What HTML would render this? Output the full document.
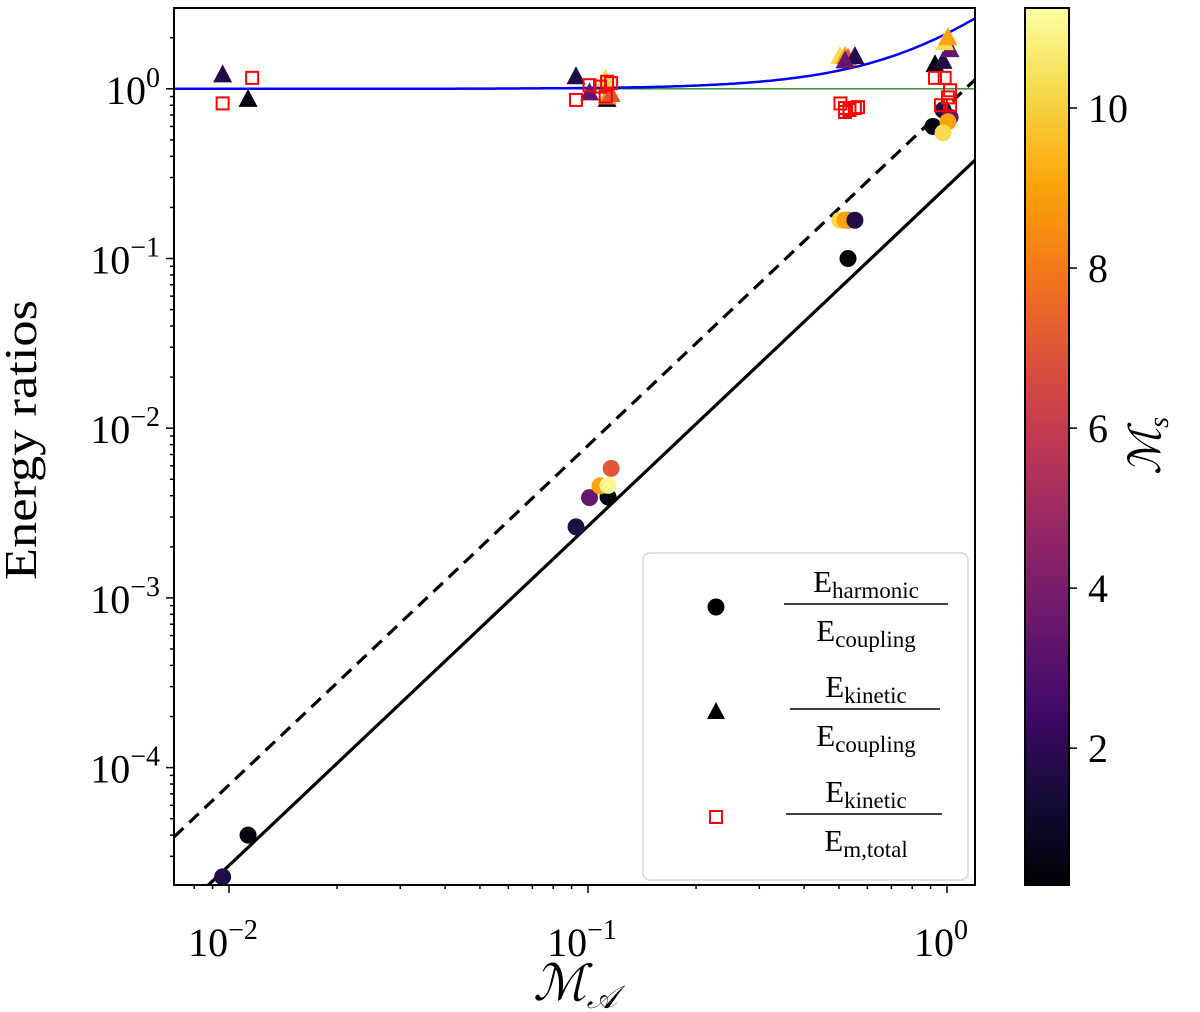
<!DOCTYPE html>
<html><head><meta charset="utf-8"><style>
html,body{margin:0;padding:0;background:#fff}
svg{display:block;font-family:"Liberation Serif","DejaVu Serif",serif}
</style></head><body>
<svg id="chart" width="1200" height="1012" viewBox="0 0 1200 1012" xmlns="http://www.w3.org/2000/svg">
<defs>
<clipPath id="clip"><rect x="174" y="8" width="801" height="877"/></clipPath>
<linearGradient id="cbgrad" x1="0" y1="1" x2="0" y2="0">
<stop offset="0" stop-color="#000004"/><stop offset="0.1" stop-color="#160b39"/><stop offset="0.2" stop-color="#420a68"/><stop offset="0.3" stop-color="#6a176e"/><stop offset="0.4" stop-color="#932667"/><stop offset="0.5" stop-color="#bc3754"/><stop offset="0.6" stop-color="#dd513a"/><stop offset="0.7" stop-color="#f37819"/><stop offset="0.8" stop-color="#fca50a"/><stop offset="0.9" stop-color="#f6d746"/><stop offset="1" stop-color="#fcffa4"/>
</linearGradient>
</defs>
<g id="plot" clip-path="url(#clip)"></g>
<rect x="174" y="8" width="801" height="877" fill="none" stroke="#000" stroke-width="2"/>
<g id="axes"></g>
<text x="36" y="440" font-size="46" text-anchor="middle" textLength="280" lengthAdjust="spacingAndGlyphs" transform="rotate(-90 36 440)">Energy ratios</text>
<text x="575" y="1000" font-size="50" font-style="italic" text-anchor="middle">ℳ<tspan font-size="32" dy="8">𝒜</tspan></text>
<g>
<rect x="643" y="553" width="325" height="327" rx="7" fill="#fff" fill-opacity="0.85" stroke="#d6d6d6" stroke-width="1.5"/>
<circle cx="716" cy="607" r="8.5" fill="#000"/>
<g>
<text x="866" y="592" font-size="31" text-anchor="middle">E<tspan font-size="23" dy="6">harmonic</tspan></text>
<line x1="784" y1="604" x2="948" y2="604" stroke="#000" stroke-width="1.6"/>
<text x="866" y="641" font-size="31" text-anchor="middle">E<tspan font-size="23" dy="6">coupling</tspan></text>
</g>
<path d="M716,702 L725,719 L707,719 Z" fill="#000"/>
<g>
<text x="866" y="697" font-size="31" text-anchor="middle">E<tspan font-size="23" dy="6">kinetic</tspan></text>
<line x1="790" y1="709" x2="940" y2="709" stroke="#000" stroke-width="1.6"/>
<text x="866" y="746" font-size="31" text-anchor="middle">E<tspan font-size="23" dy="6">coupling</tspan></text>
</g>
<rect x="710" y="811" width="12" height="12" fill="none" stroke="#f00" stroke-width="2"/>
<g>
<text x="866" y="802" font-size="31" text-anchor="middle">E<tspan font-size="23" dy="6">kinetic</tspan></text>
<line x1="786" y1="814" x2="942" y2="814" stroke="#000" stroke-width="1.6"/>
<text x="866" y="851" font-size="31" text-anchor="middle">E<tspan font-size="23" dy="6">m,total</tspan></text>
</g>
</g>
<g>
<rect x="1025" y="8" width="44" height="877" fill="url(#cbgrad)" stroke="#000" stroke-width="2"/>
<g id="cbticks"></g>
<text x="1160" y="446" font-size="44" font-style="italic" text-anchor="middle" transform="rotate(-90 1160 446)">ℳ<tspan font-size="28" dy="8">s</tspan></text>
</g>
</svg>
<script>
// data
const circMA  = [0.0096, 0.0113, 0.0926, 0.101, 0.1137, 0.108, 0.1137, 0.116, 0.503, 0.53, 0.52, 0.554, 0.53, 0.914, 0.975, 1.02, 1.006, 0.975];
const circVal = [2.27e-5, 4.0e-5, 2.62e-3, 3.9e-3, 3.93e-3, 4.57e-3, 4.6e-3, 5.8e-3, 0.168, 0.168, 0.168, 0.168, 0.1, 0.6, 0.75, 0.68, 0.64, 0.55];
const circMs  = [1.7, 0.5, 1.7, 3.5, 0.5, 9, 11, 7, 10.3, 7, 9, 1.7, 0.5, 0.5, 1.7, 3.5, 9, 10.3];
const triMA  = [0.0096, 0.0113, 0.0926, 0.101, 0.113, 0.113, 0.116, 0.112, 0.503, 0.52, 0.53, 0.554, 0.52, 0.926, 0.975, 1.02, 0.985, 1.006];
const triVal = [1.2, 0.86, 1.17, 0.94, 0.86, 0.89, 0.92, 1.13, 1.54, 1.54, 1.5, 1.54, 1.45, 1.38, 1.44, 1.69, 1.86, 1.99];
const triMs  = [1.7, 0.5, 1.7, 3.5, 0.5, 9, 7, 10.3, 10.3, 9, 7, 1.7, 3.5, 0.5, 1.7, 3.5, 10.3, 9];
const sqMA  = [0.0096, 0.0116, 0.0926, 0.101, 0.108, 0.113, 0.116, 0.112, 0.505, 0.52, 0.535, 0.554, 0.565, 0.52, 0.926, 0.985, 1.02, 1.006, 0.962, 1.02];
const sqVal = [0.82, 1.16, 0.86, 1.05, 1.03, 1.1, 1.08, 0.9, 0.82, 0.77, 0.75, 0.77, 0.78, 0.73, 1.16, 1.16, 0.98, 0.89, 0.8, 0.8];
const xTickExp = [-2, -1, 0];
const yTickExp = [-4, -3, -2, -1, 0];
const cbTicks = [2, 4, 6, 8, 10];
const solidCoef = [0.265];
const dashCoef = [0.79];
const curveCoef = [1.12];

const NS = "http://www.w3.org/2000/svg";
const X0 = 947, XD = 359, Y0 = 88.8, YD = 169.7;
const xs = v => X0 + XD * Math.log10(v);
const ys = v => Y0 - YD * Math.log10(v);
const VMIN = 0.29, VMAX = 11.25;
const cbY = v => 885 - (v - VMIN) / (VMAX - VMIN) * 877;
const stops = ["#000004","#160b39","#420a68","#6a176e","#932667","#bc3754","#dd513a","#f37819","#fca50a","#f6d746","#fcffa4"];
function hex(h){return [1,3,5].map(i=>parseInt(h.substr(i,2),16));}
function cmap(v){let t=Math.max(0,Math.min(1,(v-VMIN)/(VMAX-VMIN)))*10;let i=Math.min(9,Math.floor(t));let f=t-i;let a=hex(stops[i]),b=hex(stops[i+1]);return "rgb("+a.map((c,k)=>Math.round(c+(b[k]-c)*f)).join(",")+")";}
function mk(tag, attrs, parent){const e=document.createElementNS(NS,tag);for(const k in attrs)e.setAttribute(k,attrs[k]);parent.appendChild(e);return e;}
const plot = document.getElementById("plot");
const axes = document.getElementById("axes");
const XMIN = 10**((174-X0)/XD), XMAX = 10**((975-X0)/XD);

let g = mk("line",{x1:174,y1:ys(1),x2:975,y2:ys(1),stroke:"#228b22","stroke-width":1.3},plot);


function powerLine(c, attrs, name){
  const l = mk("line",Object.assign({x1:xs(XMIN),y1:ys(c*XMIN*XMIN),x2:xs(XMAX),y2:ys(c*XMAX*XMAX),stroke:"#000","stroke-width":3.2},attrs),plot);
  
  
}
powerLine(solidCoef[0], {}, 'solid-scaling-line');
powerLine(dashCoef[0], {"stroke-dasharray":"13,8"}, 'dashed-scaling-line');
let pts=[];
for(let i=0;i<=200;i++){const lx=Math.log10(XMIN)+(Math.log10(XMAX)-Math.log10(XMIN))*i/200;const m=10**lx;pts.push(xs(m).toFixed(1)+","+ys(1+curveCoef[0]*m*m).toFixed(1));}
const curve = mk("polyline",{points:pts.join(" "),fill:"none",stroke:"#0000ff","stroke-width":2.5},plot);



triMA.forEach((m,i)=>{const cx=xs(m),cy=ys(triVal[i]);
  const p=mk("path",{d:`M${cx},${cy-11} L${cx+9.5},${cy+7} L${cx-9.5},${cy+7} Z`,fill:cmap(triMs[i])},plot);
  
  });
circMA.forEach((m,i)=>{
  const c=mk("circle",{cx:xs(m),cy:ys(circVal[i]),r:8.5,fill:cmap(circMs[i])},plot);
  
  });
sqMA.forEach((m,i)=>{
  const r=mk("rect",{x:xs(m)-6,y:ys(sqVal[i])-6,width:12,height:12,fill:"none",stroke:"#f00","stroke-width":2},plot);
  
  });

for(let e=-3;e<=0;e++){for(let k=1;k<=9;k++){const v=k*10**e;if(v<XMIN||v>XMAX)continue;const x=xs(v);
  const t=mk("line",{x1:x,y1:885,x2:x,y2:k===1?893:889,stroke:"#000","stroke-width":1.5},axes);
  
  }}
xTickExp.forEach(e=>{const t=mk("text",{x:xs(10**e)-6,y:956,"font-size":40,"text-anchor":"middle"},axes);
  
  
  t.innerHTML="10<tspan font-size='28' dy='-17'>"+(e<0?"−"+(-e):e)+"</tspan>";});
for(let e=-5;e<=0;e++){for(let k=1;k<=9;k++){const v=k*10**e;const y=ys(v);if(y<8||y>885)continue;
  const t=mk("line",{x1:174,y1:y,x2:k===1?166:170,y2:y,stroke:"#000","stroke-width":1.5},axes);
  
  }}
yTickExp.forEach(e=>{const t=mk("text",{x:160,y:ys(10**e)+15,"font-size":40,"text-anchor":"end"},axes);
  
  
  t.innerHTML="10<tspan font-size='28' dy='-17'>"+(e<0?"−"+(-e):e)+"</tspan>";});
const cbt=document.getElementById("cbticks");
cbTicks.forEach(v=>{const y=cbY(v);
  const l=mk("line",{x1:1069,y1:y,x2:1077,y2:y,stroke:"#000","stroke-width":1.5},cbt);
  
  
  const t=mk("text",{x:1088,y:y+14,"font-size":40},cbt);
  
  
  t.textContent=v;});
</script>
</body></html>
